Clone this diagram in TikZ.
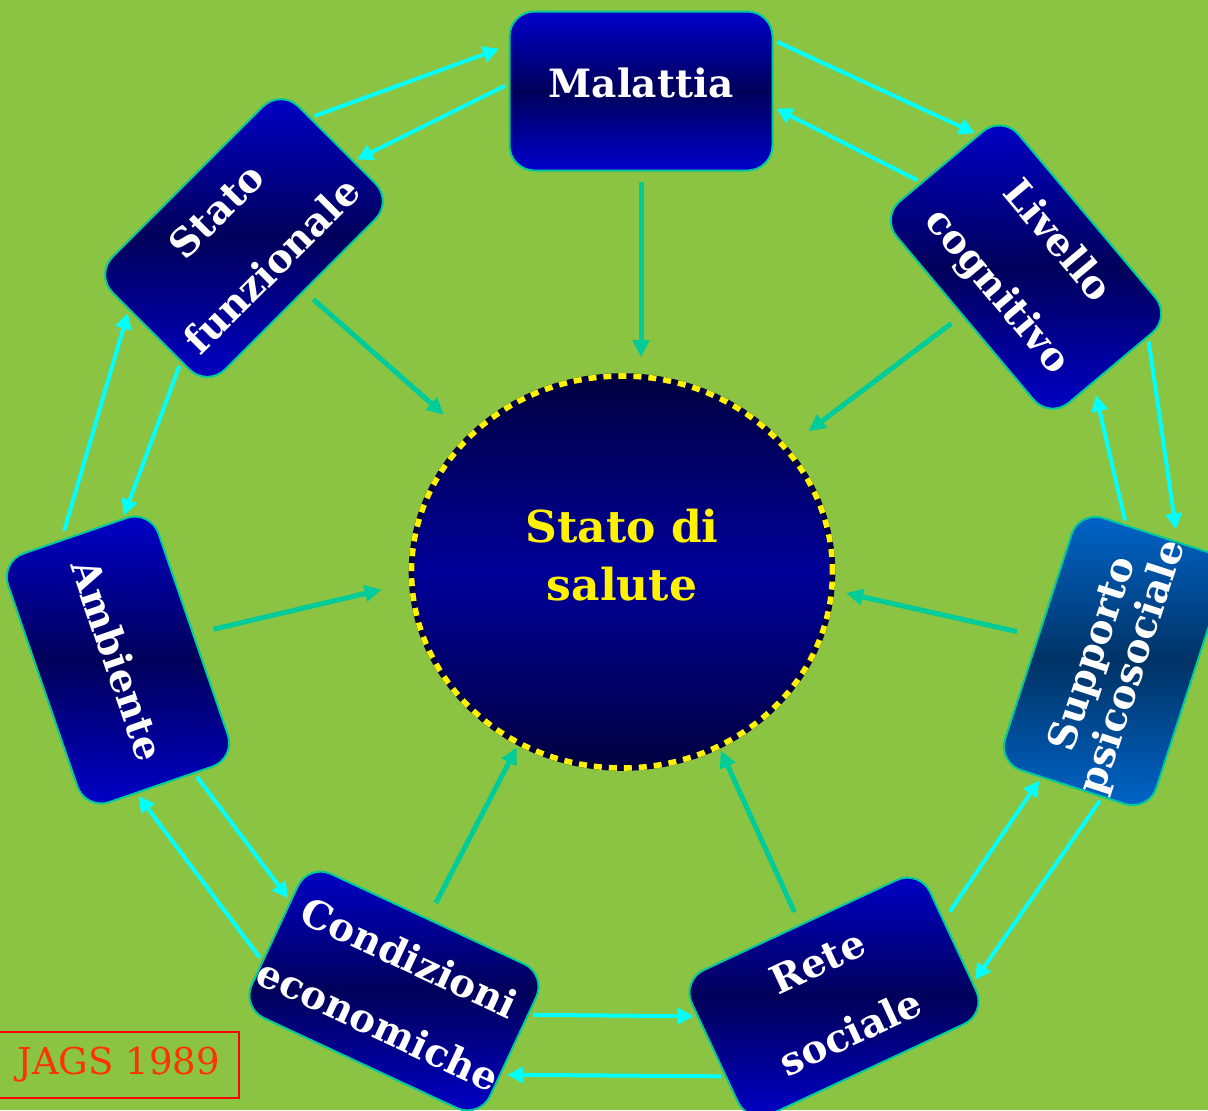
\documentclass[tikz,border=0pt]{standalone}
\usepackage{fontspec}
\setmainfont{DejaVu Serif}
\usepackage{tikz}
\usetikzlibrary{positioning,arrows.meta,shapes.geometric}
\definecolor{bggreen}{RGB}{139,196,66}
\definecolor{ringcyan}{RGB}{0,255,255}
\definecolor{feedteal}{RGB}{0,204,153}
\definecolor{boxblue}{RGB}{0,0,204}
\definecolor{boxnavy}{RGB}{0,0,90}
\definecolor{supblue}{RGB}{0,102,204}
\definecolor{supnavy}{RGB}{0,51,102}
\definecolor{circnavy}{RGB}{0,0,64}
\definecolor{circblue}{RGB}{0,0,153}
\definecolor{jagsred}{RGB}{255,51,0}
\newcommand{\factorfont}{\bfseries\fontsize{19.5}{39}\selectfont}
\newcommand{\healthfont}{\bfseries\fontsize{22}{29}\selectfont}
\def\factorwidth{131.5pt}
\def\factorheight{79.5pt}
\tikzstyle{factor}=[draw=feedteal, line width=1pt, rounded corners=12.5pt,
    minimum width=\factorwidth, minimum height=\factorheight, inner sep=0pt,
    top color=boxblue, bottom color=boxblue, middle color=boxnavy,
    text=white, align=center, font=\factorfont]
\tikzstyle{steel}=[top color=supblue, bottom color=supblue, middle color=supnavy,
    font=\bfseries\fontsize{19.5}{21}\selectfont]
\tikzstyle{health}=[ellipse, minimum width=210.5pt, minimum height=196pt, inner sep=0pt,
    top color=circnavy, bottom color=circnavy, middle color=circblue,
    draw=circnavy, line width=2.8pt,
    postaction={draw=yellow, line width=2.8pt, dash pattern=on 4pt off 3.5pt},
    text=yellow, align=center, font=\healthfont, text depth=17pt]
\tikzstyle{ring}=[draw=ringcyan, line width=2pt, -{Triangle[length=8pt,width=8pt]},
    shorten <=2pt, shorten >=1.5pt]
\tikzstyle{feed}=[draw=feedteal, line width=2.5pt, -{Triangle[length=8.5pt,width=8pt]}]
\tikzstyle{source}=[draw=red, line width=1pt, minimum width=120.5pt, minimum height=33pt,
    text=jagsred, font=\fontsize{18.5}{20}\selectfont]

\begin{document}
\begin{tikzpicture}[x=0.5pt, y=-0.5pt]
\useasboundingbox (0,0) rectangle (1208,1110);
\fill[bggreen] (0,0) rectangle (1208,1110);

\node[health] (hs) at (622,572) {Stato di\\salute};
\node[factor, text depth=8pt] (mal) at (641,91) {Malattia};
\node[factor, rotate=-50] (lc) at (1026,267) {Livello\\cognitivo};
\node[factor, steel, rotate=72] (sp) at (1114,661) {Supporto\\psicosociale};
\node[factor, rotate=25] (rs) at (834,997) {Rete\\sociale};
\node[factor, rotate=-25, font=\bfseries\fontsize{19.5}{37}\selectfont] (ce) at (394,991) {Condizioni\\economiche};
\node[factor, rotate=-71] (am) at (118,660) {Ambiente};
\node[factor, rotate=45] (sf) at (244,238) {Stato\\funzionale};
\node[source] (src) at (118.5,1065) {JAGS 1989};

\draw[ring, shorten >=5pt] (sf.16) -- (mal.161);
\draw[ring] (mal.177) -- (sf.350);
\draw[ring] (mal.21) -- (lc.160);
\draw[ring] (lc.191) -- (mal.353);
\draw[ring, shorten >=6pt] (lc.20) -- (sp.350);
\draw[ring, shorten >=6pt] (sp.13) -- (lc.350);
\draw[ring] (sp.193) -- (rs.341);
\draw[ring, shorten <=5pt] (rs.10) -- (sp.166);
\draw[ring] (ce.15) -- (rs.163);
\draw[ring, shorten >=3pt] (rs.191) -- (ce.347);
\draw[ring] (ce.192) -- (am.349);
\draw[ring] (am.15) -- (ce.164);
\draw[ring, shorten <=4.5pt] (am.186) -- (sf.167);
\draw[ring] (sf.198) -- (am.159);

\draw[feed, shorten <=5pt, shorten >=8pt] (mal.south) -- (mal.south |- hs.north);
\draw[feed, shorten <=6.5pt, shorten >=13pt] (lc) -- (hs);
\draw[feed, shorten <=10.5pt, shorten >=6pt] (sp.north) -- (hs.355);
\draw[feed, shorten <=6.7pt, shorten >=1pt] (rs.north) -- (hs.299);
\draw[feed, shorten <=8.5pt, shorten >=1pt] (ce.north) -- (hs.239);
\draw[feed, shorten <=10pt, shorten >=14pt] (am.north) -- (hs.183);
\draw[feed, shorten <=6pt, shorten >=15.5pt] (sf) -- (hs);
\end{tikzpicture}
\end{document}
